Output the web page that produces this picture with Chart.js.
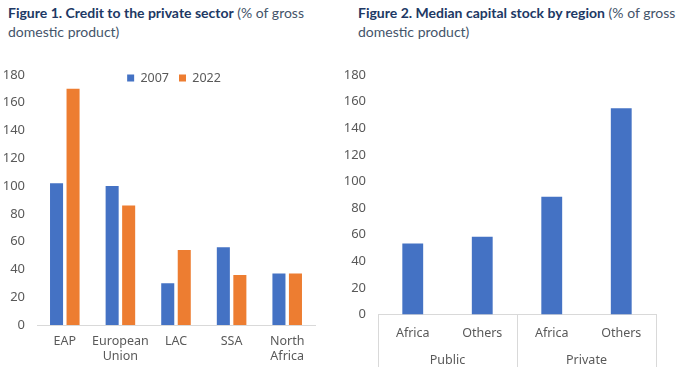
<!DOCTYPE html>
<html>
<head>
<meta charset="utf-8">
<script src="https://cdn.jsdelivr.net/npm/chart.js@4.4.1/dist/chart.umd.min.js"></script>
<style>
  html, body { margin: 0; padding: 0; background: #fff; }
  body { width: 678px; height: 385px; position: relative; overflow: hidden; }
  .title { position: absolute; top: 3px; font-family: Lato, sans-serif; font-size: 14px; line-height: 19px; color: #44546a; }
  .title b { color: #203864; }
  .box { position: absolute; top: 55px; height: 330px; }
</style>
</head>
<body>
<div class="title" style="left:8px;width:320px"><b>Figure 1. Credit to the private sector</b> (% of gross domestic product)</div>
<div class="title" style="left:358px;width:318px"><b>Figure 2. Median capital stock by region</b> (% of gross domestic product)</div>
<div class="box" style="left:0;width:340px"><canvas id="credit-chart"></canvas></div>
<div class="box" style="left:340px;width:338px"><canvas id="capital-chart"></canvas></div>
<script>
const regions = ['EAP', ['European', 'Union'], 'LAC', 'SSA', ['North', 'Africa']];
const credit2007 = [102, 100, 30, 56, 37];
const credit2022 = [170, 86, 54, 36, 37];

const groups = ['Africa', 'Others', 'Africa', 'Others'];
const sectors = ['Public', 'Private'];
const capitalStock = [53.5, 58.5, 88.5, 155];

const yMax = 180;
const yStep = 20;

const blue = '#4472C4';
const orange = '#ED7D31';
const grey = '#595959';
const tickFont = { family: 'Noto Sans', size: 13 };
const labelFont = { family: 'Noto Sans', size: 12.5 };

Chart.defaults.animation = false;
Chart.defaults.responsive = false;

const yAxis = (width) => ({
  min: 0,
  max: yMax,
  ticks: { stepSize: yStep, color: grey, font: tickFont, padding: 12 },
  grid: { display: false, drawTicks: false },
  border: { display: false },
  afterFit: scale => { scale.width = width; }
});

// legend sits inside the plot, one row near the top
const legendInside = {
  id: 'legendInside',
  beforeUpdate(chart) {
    if (chart.legend) chart.legend.isHorizontal = () => true;
  },
  afterLayout(chart) {
    const legend = chart.legend;
    legend.top -= 13;
    legend.left += 35;
    legend.right += 35;
  }
};

const creditCanvas = document.getElementById('credit-chart');
creditCanvas.width = 340; creditCanvas.height = 330;
new Chart(creditCanvas.getContext('2d'), {
  type: 'bar',
  data: {
    labels: regions,
    datasets: [
      { label: '2007', data: credit2007, backgroundColor: blue, categoryPercentage: 0.594, barPercentage: 0.79 },
      { label: '2022', data: credit2022, backgroundColor: orange, categoryPercentage: 0.594, barPercentage: 0.79 }
    ]
  },
  options: {
    layout: { padding: { top: 17, right: 25, bottom: 0, left: 0 } },
    plugins: {
      legend: {
        position: 'chartArea',
        align: 'center',
        labels: { color: grey, font: labelFont, boxWidth: 7, boxHeight: 7, padding: 10 }
      },
      tooltip: { enabled: false }
    },
    scales: {
      x: {
        ticks: { color: grey, font: labelFont, padding: 9, maxRotation: 0, autoSkip: false },
        grid: { display: false, drawTicks: false },
        border: { display: true, color: '#d9d9d9' },
        afterFit: scale => { scale.height = 60; }
      },
      y: yAxis(37)
    }
  },
  plugins: [legendInside]
});

const groupLines = {
  id: 'groupLines',
  afterDraw(chart) {
    const { ctx, chartArea, scales } = chart;
    const mid = (scales.x.getPixelForValue(1) + scales.x.getPixelForValue(2)) / 2;
    const bottom = scales.x2.bottom;
    ctx.save();
    ctx.strokeStyle = '#d9d9d9';
    ctx.lineWidth = 1;
    [chartArea.left, mid, chartArea.right].forEach(x => {
      const px = Math.round(x) + 0.5;
      ctx.beginPath();
      ctx.moveTo(px, chartArea.bottom);
      ctx.lineTo(px, bottom);
      ctx.stroke();
    });
    ctx.restore();
  }
};

const capitalCanvas = document.getElementById('capital-chart');
capitalCanvas.width = 338; capitalCanvas.height = 330;
new Chart(capitalCanvas.getContext('2d'), {
  type: 'bar',
  data: {
    labels: groups,
    datasets: [
      { label: 'Capital stock', data: capitalStock, backgroundColor: blue, categoryPercentage: 0.6, barPercentage: 0.5, xAxisID: 'x' }
    ]
  },
  options: {
    layout: { padding: { top: 20, right: 22, bottom: 18, left: 0 } },
    plugins: { legend: { display: false }, tooltip: { enabled: false } },
    scales: {
      x: {
        ticks: { color: grey, font: labelFont, padding: 11, maxRotation: 0, autoSkip: false },
        grid: { display: false, drawTicks: false },
        border: { display: true, color: '#d9d9d9' },
        afterFit: scale => { scale.height = 32; }
      },
      x2: {
        type: 'category',
        position: 'bottom',
        labels: sectors,
        offset: true,
        ticks: { color: grey, font: labelFont, padding: 6, maxRotation: 0 },
        grid: { display: false, drawTicks: false },
        border: { display: false },
        afterFit: scale => { scale.height = 20.4; }
      },
      y: yAxis(38)
    }
  },
  plugins: [groupLines]
});
</script>
</body>
</html>
